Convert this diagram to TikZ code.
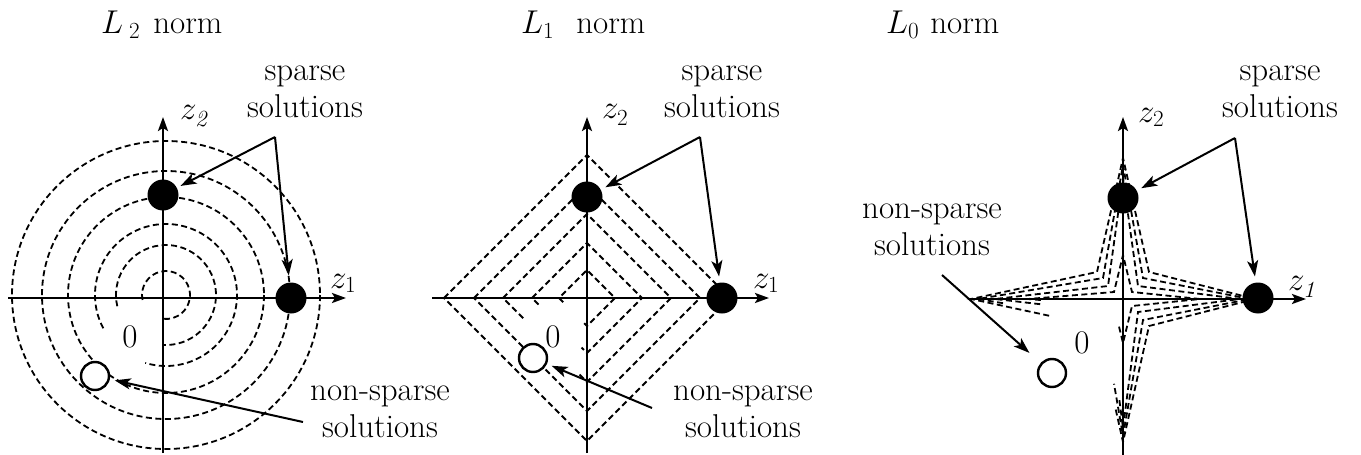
\RequirePackage{fix-cm}
\documentclass[tikz,border=0pt]{standalone}
\usepackage{fontspec}
\setmainfont{Latin Modern Roman}
\usetikzlibrary{arrows.meta,calc}
\newcommand{\lowsub}[1]{_{\lower3pt\hbox{$\scriptstyle #1$}}}
\begin{document}
\begin{tikzpicture}[x=1pt,y=-1pt,
  axis/.style={line width=2.4pt,-{Stealth[length=14pt,width=10pt,inset=3pt]}},
  ptr/.style={line width=2pt,-{Stealth[length=16pt,width=11pt,inset=4pt]}},
  lvl/.style={dash pattern=on 6pt off 3.5pt, line width=1.8pt},
  dot/.style={circle,fill=black,minimum size=31pt,inner sep=0pt},
  odot/.style={circle,draw=black,fill=white,line width=2.4pt,minimum size=28pt,inner sep=0pt},
  lbl/.style={font=\fontsize{33}{37}\selectfont,align=center,inner sep=0pt},
  ttl/.style={font=\fontsize{33}{37}\selectfont,anchor=base west,inner sep=0pt},
  zl/.style={font=\fontsize{33}{37}\selectfont,anchor=base west,inner sep=0pt},
  zero/.style={font=\fontsize{33}{37}\selectfont,inner sep=0pt}]
\useasboundingbox (0,0) rectangle (1361,455);

% ================= Panel 1: L2 =================
\coordinate (c1) at (166,295);
\draw[lvl] (c1) circle[radius=154];
\draw[lvl] (c1) circle[radius=124];
\draw[lvl] (c1) circle[radius=98];
\draw[lvl] ($(c1)+(152:71)$) arc[start angle=152,end angle=467,radius=71];
\draw[lvl] ($(c1)+(167:50)$) arc[start angle=167,end angle=454,radius=50];
\draw[lvl] ($(c1)+(168:24)$) arc[start angle=168,end angle=457,radius=24];

\coordinate (x1s) at (8,298);   \coordinate (x1e) at (346,298);
\coordinate (y1s) at (163,453); \coordinate (y1e) at (163,117);
\draw[axis] (x1s) -- (x1e);
\draw[axis] (y1s) -- (y1e);

\node[dot] (d1t) at (163,195) {};
\node[dot] (d1r) at (291,298) {};
\node[odot] (o1) at (95,376) {};

\node[ttl] (t1) at (101,34) {$L_{\hspace{6pt}2}$\hspace{13pt}norm};
\node[zl] (z1b) at (180,119) {$z\lowsub{\mathit{2}}$};
\node[zl] (z1a) at (330,288) {$z_1$};
\node[zero] (zero1) at (130,337) {0};
\node[lbl] (s1) at (305,92) {sparse\\solutions};
\node[lbl] (n1l) at (380,412) {non-sparse\\solutions};

\coordinate (a1) at (275,137);
\draw[ptr,shorten >=4pt] (a1) -- (d1t);
\draw[ptr,shorten >=7pt] (a1) -- (d1r);
\coordinate (n1) at (303,422);
\draw[ptr,shorten >=5pt] (n1) -- (o1);

% ================= Panel 2: L1 =================
\coordinate (c2) at (587,298);
\foreach \r in {143,113} {
  \draw[lvl] ($(c2)+(-\r,0)$) -- ($(c2)+(0,-\r)$) -- ($(c2)+(\r,0)$) -- ($(c2)+(0,\r)$) -- cycle;
}
\foreach \r/\p/\q in {84/0.24/0.1, 55/0.12/0.1, 28/0.15/0.1} {
  \coordinate (dL) at ($(c2)+(-\r,0)$);
  \coordinate (dT) at ($(c2)+(0,-\r)$);
  \coordinate (dR) at ($(c2)+(\r,0)$);
  \coordinate (dB) at ($(c2)+(0,\r)$);
  \draw[lvl] ($(dL)!\p!(dB)$) -- (dL) -- (dT) -- (dR) -- (dB) -- ($(dB)!\q!(dL)$);
}

\coordinate (x2s) at (432,298); \coordinate (x2e) at (769,298);
\coordinate (y2s) at (587,453); \coordinate (y2e) at (587,117);
\draw[axis] (x2s) -- (x2e);
\draw[axis] (y2s) -- (y2e);

\node[dot] (d2t) at (587,197) {};
\node[dot] (d2r) at (722,298) {};
\node[odot] (o2) at (533,358) {};

\node[ttl] (t2) at (521,34) {$L_1$\hspace{22pt}norm};
\node[zl] (z2b) at (602,118) {$z\lowsub{2}$};
\node[zl] (z2a) at (753,288) {$z_1$};
\node[zero] (zero2) at (553,337) {0};
\node[lbl] (s2) at (722,92) {sparse\\solutions};
\node[lbl] (n2l) at (743,412) {non-sparse\\solutions};

\coordinate (a2) at (700,137);
\draw[ptr,shorten >=5pt] (a2) -- (d2t);
\draw[ptr,shorten >=6pt] (a2) -- (d2r);
\coordinate (n2) at (652,408);
\draw[ptr,shorten >=5pt] (n2) -- (o2);

% ================= Panel 3: L0 =================
\foreach \Lx/\ULx/\ULy/\Ty/\Rx/\Ly/\By/\p/\q in
  {971/1097/272/158/1255/326/442/0.62/0.3,
   978/1103/278/165/1250/320/436/0.2/0.45,
   995/1108/286/178/1240/312/428/0.4/0.25,
   1028/1114/292/255/1200/306/343/0.15/0.5} {
  \pgfmathsetmacro{\URx}{2*1123-\ULx}
  \coordinate (sL) at (\Lx,299);
  \coordinate (sUL) at (\ULx,\ULy);
  \coordinate (sT) at (1123,\Ty);
  \coordinate (sUR) at (\URx,\ULy);
  \coordinate (sR) at (\Rx,299);
  \coordinate (sLR) at (\URx,\Ly);
  \coordinate (sB) at (1123,\By);
  \coordinate (sLL) at (\ULx,\Ly);
  \draw[lvl] ($(sL)!\p!(sLL)$) -- (sL) -- (sUL) -- (sT) -- (sUR) -- (sR) -- (sLR) -- (sB) -- ($(sB)!\q!(sLL)$);
}

\coordinate (x3s) at (968,299);  \coordinate (x3e) at (1306,299);
\coordinate (y3s) at (1123,455); \coordinate (y3e) at (1123,117);
\draw[axis] (x3s) -- (x3e);
\draw[axis] (y3s) -- (y3e);

\node[dot] (d3t) at (1123,198) {};
\node[dot] (d3r) at (1258,298) {};
\node[odot] (o3) at (1052,373) {};

\node[ttl] (t3) at (886,34) {$L_0$\hspace{11pt}norm};
\node[zl] (z3b) at (1138,122) {$z_2$};
\node[zl] (z3a) at (1288,290) {$z\lowsub{\mathit{1}}$};
\node[zero] (zero3) at (1082,343) {0};
\node[lbl] (s3) at (1280,92) {sparse\\solutions};
\node[lbl] (n3l) at (932,230) {non-sparse\\solutions};

\coordinate (a3) at (1235,138);
\draw[ptr,shorten >=5pt] (a3) -- (d3t);
\draw[ptr,shorten >=6pt] (a3) -- (d3r);
\coordinate (n3) at (942,275);
\draw[ptr,shorten >=15pt] (n3) -- (o3);
\end{tikzpicture}
\end{document}
